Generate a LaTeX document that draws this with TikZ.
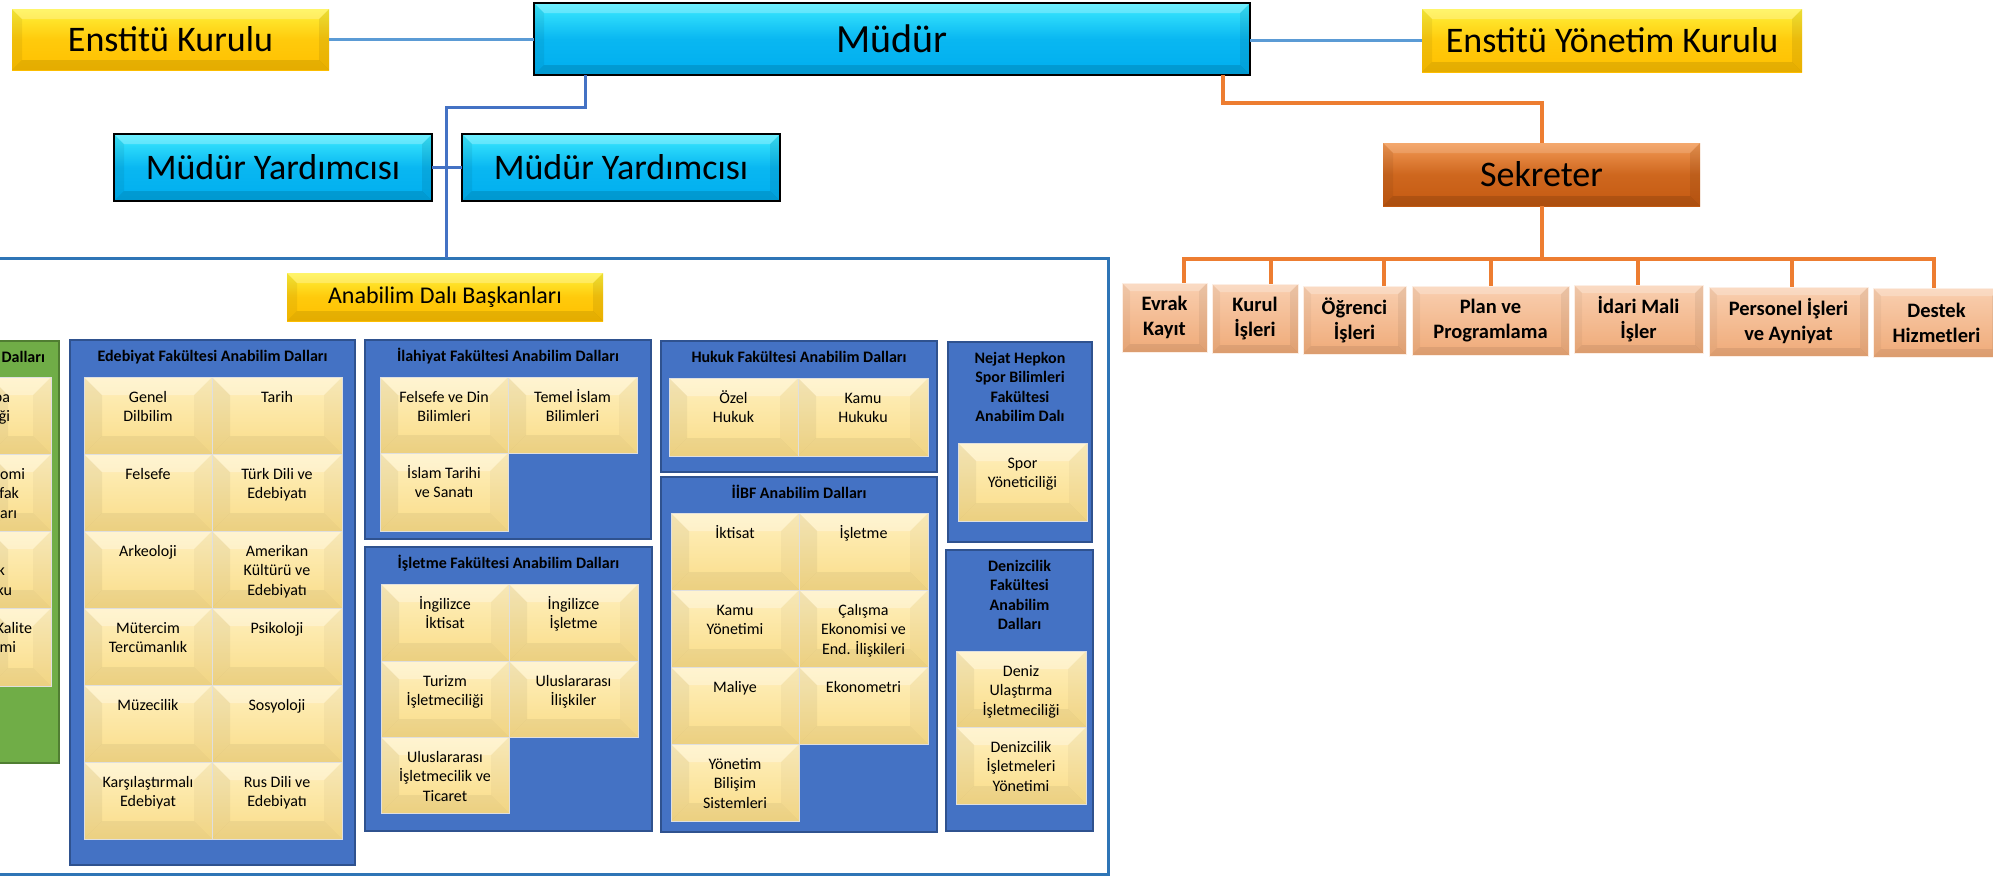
\documentclass[tikz,border=0pt]{standalone}
\usepackage{fontspec}
\setmainfont{Carlito}
\usetikzlibrary{calc}
\definecolor{cyanA}{HTML}{3DEBFF}
\definecolor{cyanB}{HTML}{00AEEF}
\definecolor{yelA}{HTML}{FFF23A}
\definecolor{yelB}{HTML}{FFC000}
\definecolor{oraA}{HTML}{F39A55}
\definecolor{oraB}{HTML}{C55A11}
\definecolor{peaA}{HTML}{F9CFB0}
\definecolor{peaB}{HTML}{EFAA78}
\definecolor{tilA}{HTML}{FFF0BE}
\definecolor{tilB}{HTML}{F9DC88}
\definecolor{panBlue}{HTML}{4472C4}
\definecolor{panBlueD}{HTML}{2F528F}
\definecolor{panGreen}{HTML}{70AD47}
\definecolor{panGreenD}{HTML}{507E32}
\definecolor{contBlue}{HTML}{2E75B6}
\definecolor{lineLB}{HTML}{5B9BD5}
\definecolor{lineB}{HTML}{4472C4}
\definecolor{lineO}{HTML}{ED7D31}

\newcommand\bev[5]{%
 \fill[white,opacity=#2] let \p1=(path picture bounding box.south west),\p2=(path picture bounding box.north east) in (\x1,\y2)--(\x2,\y2)--(\x2-#1pt,\y2-#1pt)--(\x1+#1pt,\y2-#1pt)--cycle;
 \fill[black,opacity=#3] let \p1=(path picture bounding box.south west),\p2=(path picture bounding box.north east) in (\x1,\y1)--(\x2,\y1)--(\x2-#1pt,\y1+#1pt)--(\x1+#1pt,\y1+#1pt)--cycle;
 \fill[black,opacity=#4] let \p1=(path picture bounding box.south west),\p2=(path picture bounding box.north east) in (\x1,\y1)--(\x1,\y2)--(\x1+#1pt,\y2-#1pt)--(\x1+#1pt,\y1+#1pt)--cycle;
 \fill[black,opacity=#5] let \p1=(path picture bounding box.south west),\p2=(path picture bounding box.north east) in (\x2,\y1)--(\x2,\y2)--(\x2-#1pt,\y2-#1pt)--(\x2-#1pt,\y1+#1pt)--cycle;
}

\tikzset{
 box/.style={inner sep=0pt,outer sep=0pt,align=center},
 cyanbox/.style={box,top color=cyanA,bottom color=cyanB,middle color=cyanB!85!cyanA,draw=black,line width=2.5pt,font=\fontsize{36}{40}\selectfont,path picture={\bev{10}{0.25}{0.12}{0.06}{0.08}}},
 yelbox/.style={box,top color=yelA,bottom color=yelB,middle color=yelB!80!yelA,font=\fontsize{36}{40}\selectfont,path picture={\bev{10}{0.25}{0.10}{0.06}{0.08}}},
 orabox/.style={box,top color=oraA,bottom color=oraB,middle color=oraB!80!oraA,font=\fontsize{36}{40}\selectfont,path picture={\bev{10}{0.15}{0.12}{0.06}{0.08}}},
 peabox/.style={box,top color=peaA,bottom color=peaB,draw=white!80!peaB,line width=0.8pt,font=\bfseries\fontsize{20.5}{25}\selectfont,path picture={\bev{8}{0.25}{0.08}{0.04}{0.06}}},
 tilebox/.style={box,top color=tilA,bottom color=tilB,draw=white!75!gray,line width=0.8pt,path picture={\bev{18}{0.30}{0.05}{0.05}{0.03}}},
 panel/.style={box,fill=panBlue,draw=panBlueD,line width=2pt},
 gpanel/.style={box,fill=panGreen,draw=panGreenD,line width=2pt},
 container/.style={box,fill=white,draw=contBlue,line width=3pt},
 tiletext/.style={inner sep=0pt,outer sep=0pt,align=center,text=black,font=\fontsize{16}{19.5}\selectfont},
 titletext/.style={inner sep=0pt,outer sep=0pt,align=center,text=black,font=\bfseries\fontsize{16}{19.5}\selectfont},
 lb/.style={draw=lineLB,line width=3.5pt},
 bl/.style={draw=lineB,line width=3pt},
 ol/.style={draw=lineO,line width=4pt},
}

\newcommand\bx[7]{\node[#2,minimum width={(#5)*1pt-(#3)*1pt},minimum height={(#6)*1pt-(#4)*1pt}] (#1) at ({(#3+#5)/2},{(#4+#6)/2}) {#7};}
\newcommand\tile[6]{\bx{#1}{tilebox}{#2}{#3}{#4}{#5}{}\node[tiletext,anchor=north] (#1t) at ([yshift=-11.4pt]#1.north) {\strut #6};}
\newcommand\ptitle[2]{\node[titletext,anchor=north] (#1t) at ([yshift=-7.5pt]#1.north) {\strut #2};}

\begin{document}
\begin{tikzpicture}[x=1pt,y=-1pt]
\useasboundingbox (0,0) rectangle (1993,876);
\clip (0,0) rectangle (1993,876);

% container
\bx{cont}{container}{-10}{258}{1108}{874}{}
\bx{adb}{yelbox,font=\fontsize{24}{28}\selectfont}{287}{273}{603}{321}{Anabilim Dalı Başkanları}

% green panel (cut off)
\bx{grn}{gpanel}{-10}{341}{59}{763}{}
\node[titletext,anchor=base east] (grnt) at (45,362) {Dalları};
\bx{g1}{tilebox}{-10}{377}{51}{454}{}
\bx{g2}{tilebox}{-10}{454}{51}{531}{}
\bx{g3}{tilebox}{-10}{531}{51}{608}{}
\bx{g4}{tilebox}{-10}{608}{51}{686}{}
\node[tiletext,anchor=base east] (g1a) at (10,402) {pa};
\node[tiletext,anchor=base east] (g1b) at (10,421.5) {ği};
\node[tiletext,anchor=base east] (g2a) at (25,479) {omi};
\node[tiletext,anchor=base east] (g2b) at (19,498.5) {fak};
\node[tiletext,anchor=base east] (g2c) at (17,518) {arı};
\node[tiletext,anchor=base east] (g3a) at (5,575.5) {k};
\node[tiletext,anchor=base east] (g3b) at (12,595) {ku};
\node[tiletext,anchor=base east] (g4a) at (32,633) {Kalite};
\node[tiletext,anchor=base east] (g4b) at (16,652.5) {mi};

% Edebiyat
\bx{edeb}{panel}{70}{340}{355}{865}{}
\ptitle{edeb}{Edebiyat Fakültesi Anabilim Dalları}
\tile{e1}{84}{377}{212}{454}{Genel\\Dilbilim}
\tile{e2}{212}{377}{342}{454}{Tarih}
\tile{e3}{84}{454}{212}{531}{Felsefe}
\tile{e4}{212}{454}{342}{531}{Türk Dili ve\\Edebiyatı}
\tile{e5}{84}{531}{212}{608}{Arkeoloji}
\tile{e6}{212}{531}{342}{608}{Amerikan\\Kültürü ve\\Edebiyatı}
\tile{e7}{84}{608}{212}{685}{Mütercim\\Tercümanlık}
\tile{e8}{212}{608}{342}{685}{Psikoloji}
\tile{e9}{84}{685}{212}{762}{Müzecilik}
\tile{e10}{212}{685}{342}{762}{Sosyoloji}
\tile{e11}{84}{762}{212}{839}{Karşılaştırmalı\\Edebiyat}
\tile{e12}{212}{762}{342}{839}{Rus Dili ve\\Edebiyatı}

% Ilahiyat
\bx{ilah}{panel}{365}{340}{651}{539}{}
\ptitle{ilah}{İlahiyat Fakültesi Anabilim Dalları}
\tile{i1}{380}{377}{508}{453}{Felsefe ve Din\\Bilimleri}
\tile{i2}{508}{377}{637}{453}{Temel İslam\\Bilimleri}
\tile{i3}{380}{453}{508}{531}{İslam Tarihi\\ve Sanatı}

% Isletme
\bx{islt}{panel}{365}{547}{652}{831}{}
\ptitle{islt}{İşletme Fakültesi Anabilim Dalları}
\tile{s1}{381}{584}{509}{661}{İngilizce\\İktisat}
\tile{s2}{509}{584}{638}{661}{İngilizce\\İşletme}
\tile{s3}{381}{661}{509}{737}{Turizm\\İşletmeciliği}
\tile{s4}{509}{661}{638}{737}{Uluslararası\\İlişkiler}
\tile{s5}{381}{737}{509}{813}{Uluslararası\\İşletmecilik ve\\Ticaret}

% Hukuk
\bx{huk}{panel}{661}{341}{937}{472}{}
\ptitle{huk}{Hukuk Fakültesi Anabilim Dalları}
\tile{h1}{669}{378}{798}{456}{Özel\\Hukuk}
\tile{h2}{798}{378}{928}{456}{Kamu\\Hukuku}

% IIBF
\bx{iibf}{panel}{661}{477}{937}{832}{}
\ptitle{iibf}{İİBF Anabilim Dalları}
\tile{b1}{671}{513}{799}{590}{İktisat}
\tile{b2}{799}{513}{928}{590}{İşletme}
\tile{b3}{671}{590}{799}{667}{Kamu\\Yönetimi}
\tile{b4}{799}{590}{928}{667}{Çalışma\\Ekonomisi ve\\End. İlişkileri}
\tile{b5}{671}{667}{799}{744}{Maliye}
\tile{b6}{799}{667}{928}{744}{Ekonometri}
\tile{b7}{671}{744}{799}{821}{Yönetim\\Bilişim\\Sistemleri}

% Nejat Hepkon
\bx{spor}{panel}{948}{342}{1092}{542}{}
\ptitle{spor}{Nejat Hepkon\\Spor Bilimleri\\Fakültesi\\Anabilim Dalı}
\tile{n1}{958}{443}{1087}{521}{Spor\\Yöneticiliği}

% Denizcilik
\bx{den}{panel}{946}{550}{1093}{831}{}
\ptitle{den}{Denizcilik\\Fakültesi\\Anabilim\\Dalları}
\tile{d1t}{956}{651}{1086}{727}{Deniz\\Ulaştırma\\İşletmeciliği}
\tile{d2t}{956}{727}{1086}{804}{Denizcilik\\İşletmeleri\\Yönetimi}

% top boxes
\bx{ek}{yelbox}{12}{9}{329}{70}{Enstitü Kurulu}
\bx{mudur}{cyanbox,font=\fontsize{40}{44}\selectfont}{534}{3}{1250}{75}{Müdür}
\bx{eyk}{yelbox}{1422}{9}{1802}{72}{Enstitü Yönetim Kurulu}
\bx{my1}{cyanbox}{114}{134}{432}{201}{Müdür Yardımcısı}
\bx{my2}{cyanbox}{462}{134}{780}{201}{Müdür Yardımcısı}
\bx{sek}{orabox}{1383}{143}{1700}{206}{Sekreter}

% secretariat units
\bx{evrak}{peabox}{1122}{283}{1207}{352}{Evrak\\Kayıt}
\bx{kurul}{peabox}{1212}{284}{1298}{353}{Kurul\\İşleri}
\bx{ogr}{peabox}{1303}{286}{1406}{354}{Öğrenci\\İşleri}
\bx{plan}{peabox}{1412}{286}{1569}{355}{Plan ve\\Programlama}
\bx{idari}{peabox}{1574}{285}{1703}{353}{İdari Mali\\İşler}
\bx{pers}{peabox}{1709}{287}{1868}{356}{Personel İşleri\\ve Ayniyat}
\bx{destek}{peabox}{1873}{288}{2000}{357}{Destek\\Hizmetleri}

% connectors
\draw[lb] (ek.east) -- (ek.east -| mudur.west);
\draw[lb] (mudur.east |- eyk.west) -- (eyk.west);
\coordinate (j1) at (446,107);
\draw[bl] ([xshift=51pt]mudur.south west) |- (j1) -- (j1 |- cont.north);
\draw[bl] (my1.east) -- (my2.west);
\coordinate (j2) at (1541.5,103);
\draw[ol] ([xshift=-27pt]mudur.south east) |- (j2) -- (sek.north);
\coordinate (q1) at (1184,259);
\coordinate (q2) at (1271,259);
\coordinate (q3) at (1384,259);
\coordinate (q4) at (1491,259);
\coordinate (q5) at (1638,259);
\coordinate (q6) at (1792,259);
\coordinate (q7) at (1934,259);
\draw[ol] (sek.south) -- (sek.south |- q1);
\draw[ol] ([xshift=-2pt]q1) -- ([xshift=2pt]q7);
\draw[ol] (q1) -- (q1 |- evrak.north);
\draw[ol] (q2) -- (q2 |- kurul.north);
\draw[ol] (q3) -- (q3 |- ogr.north);
\draw[ol] (q4) -- (q4 |- plan.north);
\draw[ol] (q5) -- (q5 |- idari.north);
\draw[ol] (q6) -- (q6 |- pers.north);
\draw[ol] (q7) -- (q7 |- destek.north);
\end{tikzpicture}
\end{document}
